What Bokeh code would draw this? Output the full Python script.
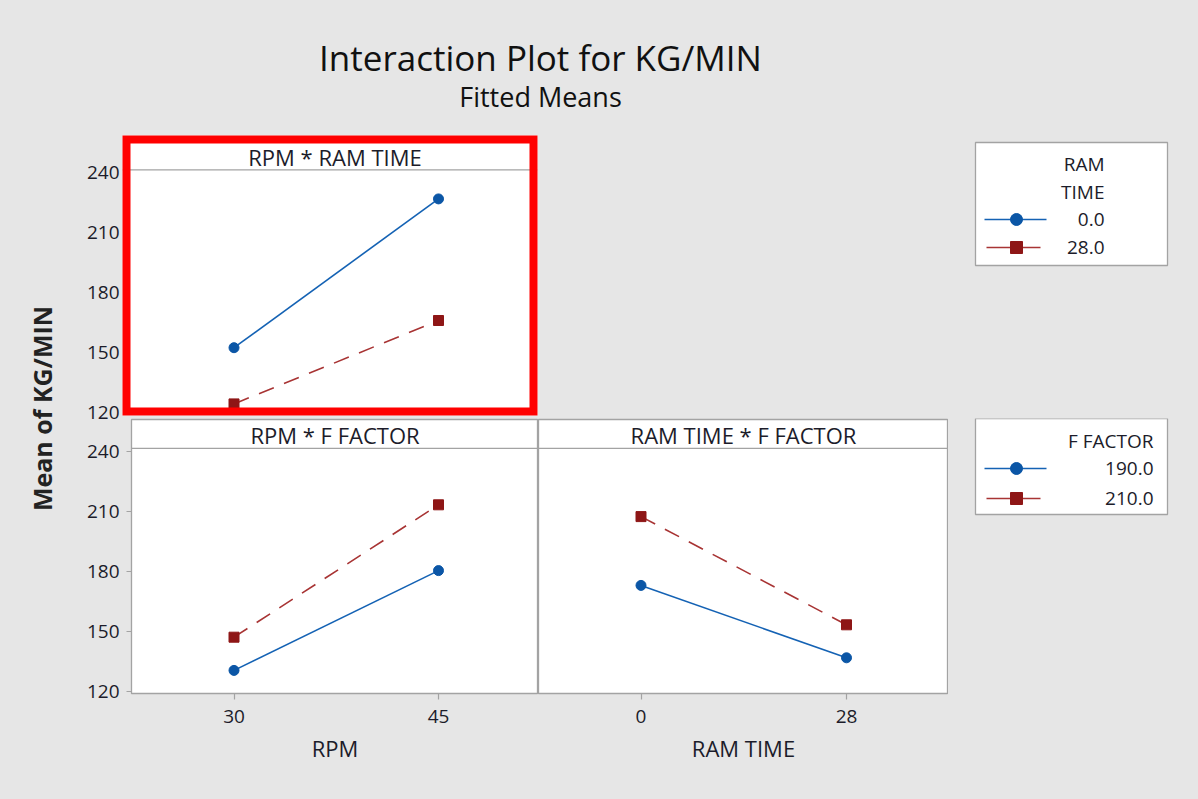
from math import pi

from bokeh.core.properties import value
from bokeh.embed import file_html
from bokeh.layouts import column, row
from bokeh.models import BoxAnnotation, FixedTicker, Range1d, Span
from bokeh.plotting import figure
from bokeh.resources import INLINE

# Factor levels
rpm_levels = [30, 45]
ram_time_levels = [0, 28]
ram_time_names = ["0.0", "28.0"]
f_factor_names = ["190.0", "210.0"]

# Fitted means of KG/MIN
rpm_by_ram_0 = [152.4, 226.8]
rpm_by_ram_28 = [124.3, 166.0]
rpm_by_f_190 = [130.3, 180.2]
rpm_by_f_210 = [146.9, 213.1]
ram_by_f_190 = [172.8, 136.6]
ram_by_f_210 = [207.2, 153.1]

y_ticks = [120, 150, 180, 210, 240]

# Styling
BG = "#e6e6e6"
FRAME = "#a3a3a3"
TEXT = "#1c1c2a"
FONT = "Open Sans"

SERIES = [
    dict(line="#1462b4", fill="#0b56a6", dash="solid", marker="circle", size=10),
    dict(line="#a83434", fill="#8e1616", dash="16 11", marker="square", size=10),
]

Y_STRIP = 241.3       # lower edge of the strip header
Y_STRIP_TEXT = 248.0  # strip header text
OVERLAP = 10          # lower row slides up under the upper row's tick labels


def span_range(px_lo, px_hi, v_a, px_a, v_b, px_b):
    """Data range whose ends fall on pixels px_lo / px_hi, given two anchor values."""
    scale = (px_b - px_a) / (v_b - v_a)
    return (v_a + (px_lo - px_a) / scale, v_a + (px_hi - px_a) / scale)


def blank(width, height, x0, x1, y_top, y_bottom):
    p = figure(width=width, height=height,
               x_range=Range1d(x0, x1), y_range=Range1d(y_bottom, y_top),
               x_axis_location=None, y_axis_location=None,
               output_backend="svg", toolbar_location=None,
               min_border_left=0, min_border_right=0,
               min_border_top=0, min_border_bottom=0)
    p.frame_align = False
    p.grid.visible = False
    p.outline_line_color = None
    p.background_fill_color = BG
    p.border_fill_color = BG
    return p


def style_axis(ax, tick_out, label_standoff):
    ax.axis_line_color = None
    ax.major_tick_line_color = FRAME
    ax.major_tick_line_width = 1.2
    ax.major_tick_out = tick_out
    ax.major_tick_in = 0
    ax.minor_tick_line_color = None
    ax.major_label_standoff = label_standoff
    ax.major_label_text_font = FONT
    ax.major_label_text_font_size = "19px"
    ax.major_label_text_color = TEXT


def panel(width, height, x_range, y_range, borders, strip, strip_x,
          x_ticks=None, x_label=None, show_y=True, y_tick_out=5, y_standoff=7):
    left, right, top, bottom = borders
    p = figure(width=width, height=height,
               x_range=Range1d(*x_range), y_range=Range1d(*y_range),
               x_axis_location="below" if x_ticks else None,
               y_axis_location="left" if show_y else None,
               output_backend="svg", toolbar_location=None,
               min_border_left=left, min_border_right=right,
               min_border_top=top, min_border_bottom=bottom)
    p.frame_align = False
    p.grid.visible = False
    p.background_fill_color = "white"
    p.border_fill_color = BG
    p.outline_line_color = FRAME
    p.outline_line_width = 1.3
    if show_y:
        ax = p.yaxis[0]
        ax.ticker = FixedTicker(ticks=y_ticks)
        style_axis(ax, y_tick_out, y_standoff)
    if x_ticks:
        ax = p.xaxis[0]
        ax.ticker = FixedTicker(ticks=x_ticks)
        style_axis(ax, 6, 10)
        ax.axis_label = x_label
        ax.axis_label_standoff = 7
        ax.axis_label_text_font = FONT
        ax.axis_label_text_font_size = "22px"
        ax.axis_label_text_font_style = "normal"
        ax.axis_label_text_color = TEXT
    # strip header
    p.add_layout(Span(location=Y_STRIP, dimension="width", line_color=FRAME, line_width=1.3))
    p.text(x=[strip_x], y=[Y_STRIP_TEXT], text=[strip],
           text_font=value(FONT), text_font_size="22px", text_color=TEXT,
           text_align="center", text_baseline="middle")
    return p


def add_series(p, xs, ys_list):
    for ys, s in zip(ys_list, SERIES):
        p.line(xs, ys, line_color=s["line"], line_width=1.6, line_dash=s["dash"])
        p.scatter(xs, ys, marker=s["marker"], size=s["size"],
                  fill_color=s["fill"], line_color=s["fill"])


def draw_legend(p, box, title_lines, title_ys, entry_ys, names, text_right):
    left, right, top, bottom = box
    p.quad(left=[left], right=[right], top=[top], bottom=[bottom],
           fill_color="white", line_color=FRAME, line_width=1.3)
    p.text(x=[text_right] * len(title_lines), y=title_ys, text=title_lines,
           text_font=value(FONT), text_font_size="19px",
           text_color=TEXT, text_align="right", text_baseline="middle")
    spans = [(984, 1046), (986, 1040)]
    for y, name, s, (x0, x1) in zip(entry_ys, names, SERIES, spans):
        p.line([x0, x1], [y, y], line_color=s["line"], line_width=1.6)
        p.scatter([1016], [y], marker=s["marker"], size=12,
                  fill_color=s["fill"], line_color=s["fill"])
        p.text(x=[text_right], y=[y], text=[name],
               text_font=value(FONT), text_font_size="19px", text_color=TEXT,
               text_align="right", text_baseline="middle")


# Title band
head = blank(1198, 130, 0, 1198, 0, 130)
head.text(x=[540], y=[57], text=["Interaction Plot for KG/MIN"],
          text_font=value(FONT), text_font_size="35px", text_color="#111111",
          text_align="center", text_baseline="middle")
head.text(x=[540], y=[96], text=["Fitted Means"],
          text_font=value(FONT), text_font_size="27px", text_color="#111111",
          text_align="center", text_baseline="middle")

# Shared y-axis title
ylab = blank(65, 669, 0, 65, 130, 799)
ylab.text(x=[41], y=[408], text=["Mean of KG/MIN"], angle=pi / 2,
          text_font=value(FONT), text_font_size="25px", text_font_style="bold",
          text_color="#222222", text_align="center", text_baseline="middle")

# Horizontal scales: level positions in pixels
rpm_px = (233.5, 438.0)
ram_px = (640.5, 846.0)
rpm_mid = sum(span_range(131, 538, rpm_levels[0], rpm_px[0], rpm_levels[1], rpm_px[1])) / 2
ram_mid = sum(span_range(538, 948, ram_time_levels[0], ram_px[0], ram_time_levels[1], ram_px[1])) / 2

top_h = 288 + OVERLAP

# RPM * RAM TIME (highlighted panel; its frame holds the red outline)
p1 = panel(473, top_h,
           span_range(122, 537, rpm_levels[0], rpm_px[0], rpm_levels[1], rpm_px[1]),
           span_range(415, 135, 120, 412, 240, 172),
           (57, 1, 5, 3 + OVERLAP), "RPM * RAM TIME", rpm_mid, y_tick_out=0, y_standoff=3)
p1.outline_line_color = None
add_series(p1, rpm_levels, [rpm_by_ram_0, rpm_by_ram_28])
p1.add_layout(BoxAnnotation(fill_color=None, line_color="#ff0000", line_alpha=1.0,
                            line_width=16, level="overlay"))

# Empty cell + RAM TIME legend
side1 = blank(660, top_h, 538, 1198, 130, 418 + OVERLAP)
draw_legend(side1, (975, 1167, 142, 265), ["RAM", "TIME"], [163, 191],
            [219, 247], ram_time_names, 1104)

bottom_y = span_range(693, 419, 120, 690.5, 240, 450.5)

# RPM * F FACTOR
p2 = panel(473, 381,
           span_range(131, 538, rpm_levels[0], rpm_px[0], rpm_levels[1], rpm_px[1]),
           bottom_y, (66, 0, 1, 106), "RPM * F FACTOR", rpm_mid,
           x_ticks=rpm_levels, x_label="RPM")
p2.border_fill_alpha = 0
add_series(p2, rpm_levels, [rpm_by_f_190, rpm_by_f_210])

# RAM TIME * F FACTOR
p3 = panel(410, 381,
           span_range(538, 948, ram_time_levels[0], ram_px[0], ram_time_levels[1], ram_px[1]),
           bottom_y, (0, 0, 1, 106), "RAM TIME * F FACTOR", ram_mid,
           x_ticks=ram_time_levels, x_label="RAM TIME", show_y=False)
p3.border_fill_alpha = 0
add_series(p3, ram_time_levels, [ram_by_f_190, ram_by_f_210])

# F FACTOR legend
side2 = blank(250, 381, 948, 1198, 418, 799)
draw_legend(side2, (975, 1167, 418, 514), ["F FACTOR"], [440],
            [468, 498], f_factor_names, 1153)

fill = {"background-color": BG}
page = {"background-color": BG, "outline": "1px solid #c6c6c6", "outline-offset": "-3px"}
layout = column(
    head,
    row(ylab,
        column(row(p1, side1, styles=fill),
               row(p2, p3, side2, margin=(-OVERLAP, 0, 0, 0)),
               styles=fill),
        styles=fill),
    styles=page,
)

open("out.html", "w").write(file_html(layout, INLINE))
